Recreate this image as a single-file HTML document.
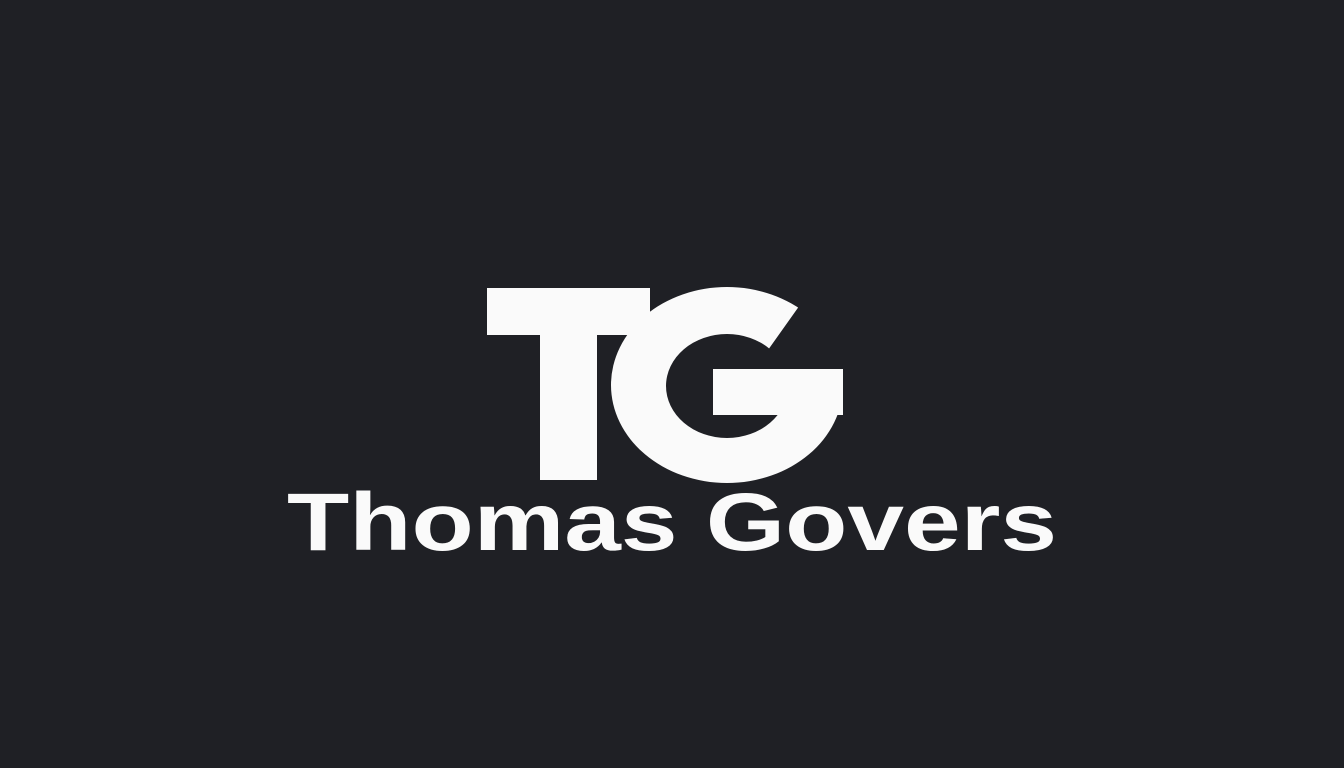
<!DOCTYPE html>
<html><head><meta charset="utf-8"><style>
html,body{margin:0;padding:0;background:#1f2025;width:1344px;height:768px;overflow:hidden}
</style></head><body>
<svg width="1344" height="768" viewBox="0 0 1344 768">
<rect width="1344" height="768" fill="#1f2025"/>
<g>
  <g>
    <ellipse cx="727" cy="385" rx="116" ry="98" fill="#fafafa"/>
    <ellipse cx="727" cy="386" rx="61" ry="52" fill="#1f2025"/>
    <polygon points="812,288 768,350 768,369 870,369 870,288" fill="#1f2025"/>
    <rect x="713" y="369" width="130" height="46" fill="#fafafa"/>
  </g>
  <rect x="597" y="280" width="14" height="210" fill="#1f2025"/>
  <g>
    <rect x="487" y="288" width="163" height="47" fill="#fafafa"/>
    <rect x="540" y="288" width="57" height="192" fill="#fafafa"/>
  </g>
</g>
<text x="287" y="550" textLength="770" lengthAdjust="spacingAndGlyphs" font-family="Liberation Sans, sans-serif" font-weight="bold" font-size="82" fill="#fafafa">Thomas Govers</text>
</svg>
</body></html>
